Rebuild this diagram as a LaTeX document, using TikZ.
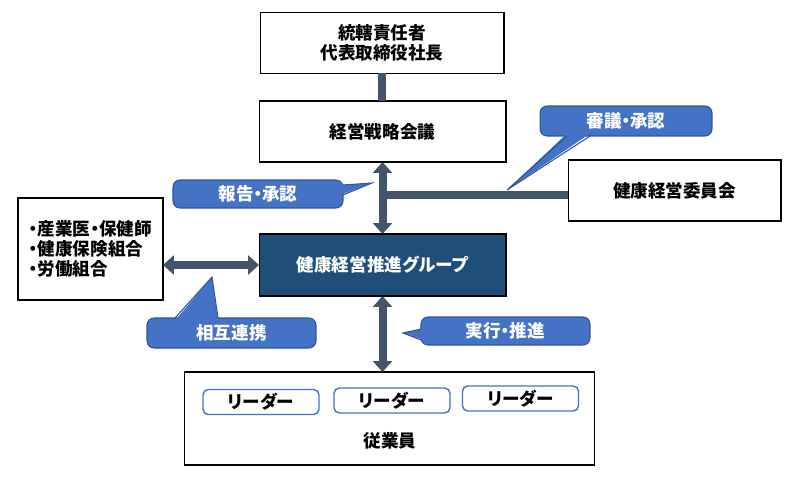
\documentclass[tikz,border=0pt]{standalone}
\usepackage{fontspec}
\setmainfont{Noto Sans CJK JP}[RawFeature=+palt]
\usetikzlibrary{arrows.meta}
\definecolor{navy}{HTML}{1F4E79}
\definecolor{slate}{HTML}{44546A}
\definecolor{callblue}{HTML}{4472C4}
\definecolor{calledge}{HTML}{2F5597}
\begin{document}
\begin{tikzpicture}[x=0.02cm,y=-0.02cm,
  every node/.style={inner sep=0pt,outer sep=0pt,font=\fontsize{10}{11.4}\selectfont\bfseries},
  box/.style={draw=black,line width=0.6pt,fill=white,align=center},
  callbox/.style={fill=callblue,draw=calledge,line width=0.6pt,rounded corners=4pt,text=white},
  tailedge/.style={calledge,line width=0.6pt,line join=miter},
  leader/.style={draw=callblue,line width=0.8pt,rounded corners=3pt,minimum width=2.32cm,minimum height=0.5cm},
  bar/.style={slate,line width=0.16cm},
  dbl/.style={bar,{Triangle[length=0.22cm,width=0.38cm]}-{Triangle[length=0.22cm,width=0.38cm]}}]
\useasboundingbox (0,0) rectangle (800,480);
% boxes
\node [box,minimum width=4.88cm,minimum height=1.22cm] (top) at (382,43) {統轄責任者\\代表取締役社長};
\node [box,minimum width=4.94cm,minimum height=1.22cm] (strat) at (382.5,131.5) {経営戦略会議};
\node [box,minimum width=4.26cm,minimum height=1.22cm] (iin) at (674.5,190.5) {健康経営委員会};
\node [box,minimum width=4.94cm,minimum height=1.24cm,fill=navy,text=white] (group) at (382.5,265) {健康経営推進グループ};
\node [box,minimum width=2.9cm,minimum height=2.04cm,align=left] (side) at (90.5,249) {・産業医・保健師\\・健康保険組合\\・労働組合};
\node [box,minimum width=8.22cm,minimum height=1.86cm] (staff) at (389.5,418.5) {};
\node [leader] (lead1) at (261,402) {リーダー};
\node [leader] (lead2) at (392,400.5) {リーダー};
\node [leader] (lead3) at (520.5,398.5) {リーダー};
\node (staffname) at (390,441) {従業員};
% connectors
\draw [bar] (top.south) -- (top.south |- strat.north);
\draw [dbl] (strat.south) -- (group.north);
\coordinate (joint) at (383,195);
\draw [bar] (joint) -- (joint -| iin.west);
\draw [dbl] (group.west -| side.east) -- (group.west);
\draw [dbl] (group.south) -- (group.south |- staff.north);
% callouts
\coordinate (shingitip) at (507,190);
\coordinate (hokokutip) at (372,183);
\coordinate (sogotip) at (212,277);
\coordinate (jikkotip) at (403,333);
\node [callbox,minimum width=3.44cm,minimum height=0.6cm] (shingi) at (626,121) {審議・承認};
\fill [callblue] ([xshift=0.54cm,yshift=0.05cm]shingi.south west) -- (shingitip) -- ([xshift=1cm,yshift=0.05cm]shingi.south west) -- cycle;
\draw [tailedge] ([xshift=0.54cm]shingi.south west) -- (shingitip) -- ([xshift=1cm]shingi.south west);
\node [callbox,minimum width=3.4cm,minimum height=0.56cm] (hokoku) at (258,194) {報告・承認};
\fill [callblue] ([xshift=-0.05cm,yshift=-0.1cm]hokoku.north east) -- (hokokutip) -- ([xshift=-0.05cm,yshift=-0.3cm]hokoku.north east) -- cycle;
\draw [tailedge] ([yshift=-0.1cm]hokoku.north east) -- (hokokutip) -- ([yshift=-0.3cm]hokoku.north east);
\node [callbox,minimum width=3.38cm,minimum height=0.6cm] (sogo) at (231.5,333) {相互連携};
\fill [callblue] ([xshift=0.56cm,yshift=-0.05cm]sogo.north west) -- (sogotip) -- ([xshift=1.42cm,yshift=-0.05cm]sogo.north west) -- cycle;
\draw [tailedge] ([xshift=0.56cm]sogo.north west) -- (sogotip) -- ([xshift=1.42cm]sogo.north west);
\node [callbox,minimum width=3.38cm,minimum height=0.56cm] (jikko) at (505.5,331) {実行・推進};
\fill [callblue] ([xshift=0.05cm,yshift=-0.24cm]jikko.north west) -- (jikkotip) -- ([xshift=0.05cm,yshift=-0.46cm]jikko.north west) -- cycle;
\draw [tailedge] ([yshift=-0.24cm]jikko.north west) -- (jikkotip) -- ([yshift=-0.46cm]jikko.north west);
\end{tikzpicture}
\end{document}
